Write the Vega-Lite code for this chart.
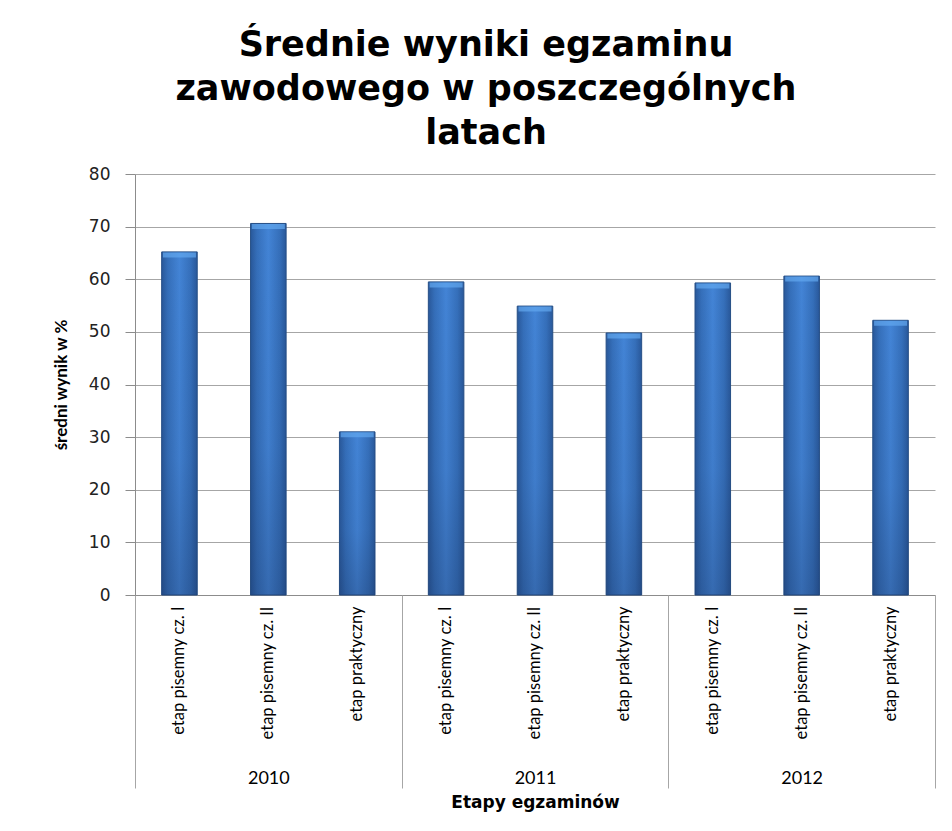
{
  "$schema": "https://vega.github.io/schema/vega-lite/v6.json",
  "width": 800,
  "height": 421,
  "autosize": {"type": "none"},
  "padding": {"left": 135, "top": 174, "right": 17, "bottom": 236},
  "background": "white",
  "config": {"view": {"stroke": null}},
  "title": {
    "text": ["Średnie wyniki egzaminu", "zawodowego w poszczególnych", "latach"],
    "font": "DejaVu Sans",
    "fontSize": 35,
    "fontWeight": "bold",
    "lineHeight": 44,
    "anchor": "middle",
    "frame": "group",
    "dx": -49,
    "offset": 14,
    "color": "#000000"
  },
  "data": {
    "values": [
      {"key": "2010|etap pisemny cz. I", "year": "2010", "stage": "etap pisemny cz. I", "value": 65.2},
      {"key": "2010|etap pisemny cz. II", "year": "2010", "stage": "etap pisemny cz. II", "value": 70.6},
      {"key": "2010|etap praktyczny", "year": "2010", "stage": "etap praktyczny", "value": 31.0},
      {"key": "2011|etap pisemny cz. I", "year": "2011", "stage": "etap pisemny cz. I", "value": 59.5},
      {"key": "2011|etap pisemny cz. II", "year": "2011", "stage": "etap pisemny cz. II", "value": 54.9},
      {"key": "2011|etap praktyczny", "year": "2011", "stage": "etap praktyczny", "value": 49.8},
      {"key": "2012|etap pisemny cz. I", "year": "2012", "stage": "etap pisemny cz. I", "value": 59.3},
      {"key": "2012|etap pisemny cz. II", "year": "2012", "stage": "etap pisemny cz. II", "value": 60.6},
      {"key": "2012|etap praktyczny", "year": "2012", "stage": "etap praktyczny", "value": 52.2}
    ]
  },
  "layer": [
    {
      "encoding": {
        "x": {
          "field": "key",
          "type": "nominal",
          "sort": null,
          "scale": {"paddingInner": 0.6, "paddingOuter": 0.3},
          "axis": {
            "title": null,
            "ticks": false,
            "labelAngle": 270,
            "labelPadding": 11,
            "labelFont": "Lato",
            "labelFontSize": 16.5,
            "labelColor": "#000000",
            "labelLimit": 300,
            "labelExpr": "split(datum.value, '|')[1]",
            "domainColor": "#8c8c8c",
            "grid": false
          }
        },
        "y": {
          "field": "value",
          "type": "quantitative",
          "scale": {"domain": [0, 80]},
          "axis": {
            "title": "średni wynik w %",
            "titleFont": "Lato",
            "titleFontSize": 17,
            "titleFontWeight": "bold",
            "titleColor": "#000000",
            "titlePadding": 18,
            "values": [0, 10, 20, 30, 40, 50, 60, 70, 80],
            "labelFont": "DejaVu Sans",
            "labelFontSize": 17,
            "labelColor": "#222222",
            "labelPadding": 15,
            "tickSize": 10,
            "tickColor": "#8c8c8c",
            "domainColor": "#8c8c8c",
            "gridColor": "#a6a6a6",
            "grid": true
          }
        }
      },
      "layer": [
        {
          "mark": {
            "type": "bar",
            "stroke": "#264f86",
            "strokeWidth": 1,
            "color": {
              "gradient": "linear",
              "x1": 0, "x2": 1, "y1": 0, "y2": 0,
              "stops": [
                {"offset": 0, "color": "#29589a"},
                {"offset": 0.18, "color": "#356fba"},
                {"offset": 0.5, "color": "#4384d6"},
                {"offset": 0.82, "color": "#356fba"},
                {"offset": 1, "color": "#29589a"}
              ]
            }
          }
        },
        {
          "mark": {
            "type": "bar",
            "color": {
              "gradient": "linear",
              "x1": 0, "x2": 0, "y1": 0, "y2": 1,
              "stops": [
                {"offset": 0, "color": "rgba(20,40,80,0)"},
                {"offset": 0.6, "color": "rgba(20,40,80,0.08)"},
                {"offset": 1, "color": "rgba(20,40,80,0.28)"}
              ]
            }
          }
        },
        {
          "mark": {
            "type": "tick",
            "orient": "horizontal",
            "thickness": 5,
            "size": 33,
            "yOffset": 3,
            "color": "#63a8f0"
          }
        }
      ]
    },
    {
      "mark": {"type": "rule", "opacity": 0},
      "encoding": {
        "x": {
          "field": "year",
          "type": "nominal",
          "sort": null,
          "scale": {"paddingInner": 0, "paddingOuter": 0},
          "axis": {
            "orient": "bottom",
            "title": "Etapy egzaminów",
            "titleFont": "DejaVu Sans",
            "titleFontSize": 17,
            "titleFontWeight": "bold",
            "titleColor": "#000000",
            "titlePadding": 6,
            "tickBand": "extent",
            "tickSize": 193,
            "tickColor": "#a6a6a6",
            "domain": false,
            "grid": false,
            "labelAngle": 0,
            "labelFont": "Lato",
            "labelFontSize": 18,
            "labelColor": "#000000",
            "labelPadding": -19
          }
        }
      }
    }
  ],
  "resolve": {"scale": {"x": "independent"}, "axis": {"x": "independent"}}
}
